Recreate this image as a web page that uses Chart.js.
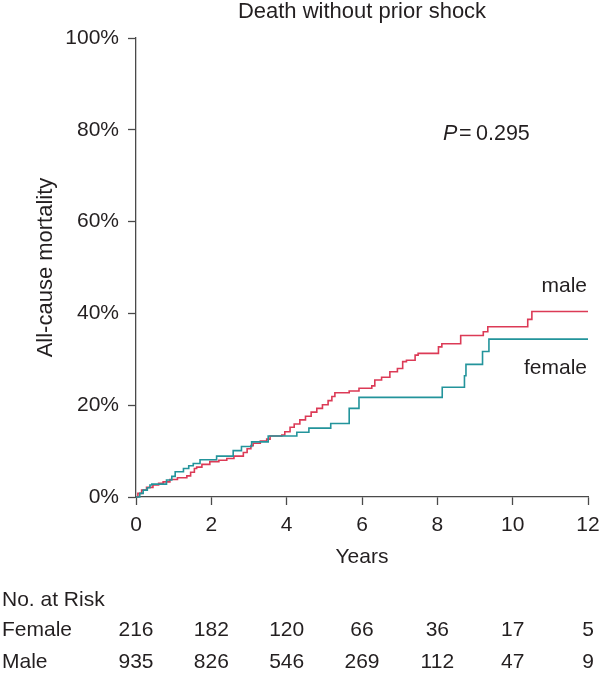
<!DOCTYPE html>
<html>
<head>
<meta charset="utf-8">
<script src="https://cdn.jsdelivr.net/npm/chart.js@4/dist/chart.umd.min.js"></script>
<style>
  html, body { margin: 0; padding: 0; background: #fff; }
  #wrap { width: 600px; height: 675px; }
</style>
</head>
<body>
<div id="wrap"><canvas id="c" width="600" height="675"></canvas></div>
<script>
// ---- data ----
const chartTitle = 'Death without prior shock';
const xTitle = 'Years';
const yTitle = 'All-cause mortality';
const pText = '0.295';

const femaleTimes = [0, 0.1, 0.19, 0.3, 0.37, 0.42, 0.81, 0.95, 1.04, 1.26, 1.4, 1.52, 1.7, 2.14, 2.58, 2.8, 3.07, 3.51, 4.27, 4.59, 5.17, 5.66, 5.92, 8.13, 8.72, 8.76, 9.2, 9.37, 12];
const femaleMort = [0, 0.8, 1.5, 2.0, 2.6, 2.8, 3.7, 4.5, 5.5, 6.2, 6.8, 7.3, 8.1, 8.9, 10.1, 11.0, 12.0, 13.3, 14.1, 15.0, 16.0, 19.3, 21.7, 23.9, 26.4, 28.9, 31.7, 34.4, 34.4];

const maleTimes = [0, 0.05, 0.15, 0.28, 0.45, 0.6, 0.72, 0.9, 1.1, 1.35, 1.45, 1.55, 1.61, 1.75, 1.96, 2.2, 2.41, 2.6, 2.85, 2.95, 3.05, 3.11, 3.3, 3.47, 3.56, 3.87, 3.95, 4.09, 4.2, 4.35, 4.5, 4.65, 4.8, 4.95, 5.1, 5.2, 5.28, 5.66, 5.92, 6.26, 6.34, 6.52, 6.74, 6.94, 7.08, 7.18, 7.41, 7.49, 8.03, 8.12, 8.62, 9.22, 9.34, 10.4, 10.51, 12];
const maleMort = [0, 0.8, 1.5, 2.1, 2.6, 3.0, 3.3, 3.8, 4.2, 4.6, 5.4, 6.2, 6.5, 7.1, 7.7, 8.0, 8.4, 8.9, 9.7, 10.5, 11.2, 11.7, 12.2, 12.6, 13.3, 13.5, 14.2, 15.2, 15.9, 16.8, 17.6, 18.5, 19.3, 20.1, 21.0, 21.9, 22.7, 23.1, 23.7, 24.2, 25.5, 26.1, 27.3, 28.0, 29.5, 29.8, 30.9, 31.3, 32.7, 33.4, 35.2, 36.0, 37.1, 38.7, 40.4, 40.4];

const riskYears = [0, 2, 4, 6, 8, 10, 12];
const riskFemale = [216, 182, 120, 66, 36, 17, 5];
const riskMale = [935, 826, 546, 269, 112, 47, 9];
const riskHeader = 'No. at Risk';
const groupNames = ['Female', 'Male'];
const curveLabels = ['female', 'male'];

const xTicks = { min: 0, max: 12, step: 2 };
const yTicks = { min: 0, max: 100, step: 20 };

// ---- styles ----
const FONT = "'Liberation Sans', Arial, Helvetica, sans-serif";
const TXT = '#231f20';
const AX = '#4a4a4a';
const RED = '#dc3a56';
const TEAL = '#23949b';

function pts(ts, vs) { return ts.map((t, i) => ({ x: t, y: vs[i] })); }

const annot = {
  id: 'annot',
  afterDraw(chart) {
    const ctx = chart.ctx;
    const xs = chart.scales.x;
    const ca = chart.chartArea;
    ctx.save();
    ctx.fillStyle = TXT;
    ctx.textBaseline = 'middle';
    // title
    ctx.font = '22px ' + FONT;
    ctx.textAlign = 'center';
    ctx.fillText(chartTitle, (ca.left + ca.right) / 2, 12);
    // P value
    ctx.textAlign = 'left';
    ctx.font = 'italic 21.5px ' + FONT;
    ctx.fillText('P', 443, 134.5);
    ctx.font = '21.5px ' + FONT;
    ctx.fillText('=', 459, 134.5);
    ctx.fillText(pText, 476, 134.5);
    // curve labels
    ctx.font = '21px ' + FONT;
    ctx.textAlign = 'right';
    ctx.fillText(curveLabels[1], ca.right - 1, 286);
    ctx.fillText(curveLabels[0], ca.right - 1, 368);
    // risk table
    ctx.textAlign = 'left';
    ctx.fillText(riskHeader, 2, 600);
    ctx.fillText(groupNames[0], 2, 630.5);
    ctx.fillText(groupNames[1], 2, 662.5);
    ctx.textAlign = 'center';
    riskYears.forEach((yr, i) => {
      const px = xs.getPixelForValue(yr);
      ctx.fillText(String(riskFemale[i]), px, 630.5);
      ctx.fillText(String(riskMale[i]), px, 662.5);
    });
    ctx.restore();
  }
};

new Chart(document.getElementById('c'), {
  type: 'line',
  data: {
    datasets: [
      { label: 'female', data: pts(femaleTimes, femaleMort), borderColor: TEAL, borderWidth: 1.6, pointRadius: 0, stepped: 'before', fill: false, clip: false },
      { label: 'male', data: pts(maleTimes, maleMort), borderColor: RED, borderWidth: 1.6, pointRadius: 0, stepped: 'before', fill: false, clip: false }
    ]
  },
  options: {
    responsive: false,
    animation: false,
    events: [],
    layout: { padding: { top: 38, right: 12, bottom: 105, left: 0 } },
    plugins: { legend: { display: false }, title: { display: false }, tooltip: { enabled: false } },
    scales: {
      x: {
        type: 'linear', min: xTicks.min, max: xTicks.max,
        afterFit: s => { s.height = 73; s.paddingLeft = 0; s.paddingRight = 0; },
        ticks: { stepSize: xTicks.step, color: TXT, font: { family: FONT, size: 21 }, padding: 8, maxRotation: 0 },
        grid: { drawOnChartArea: false, drawTicks: true, tickLength: 8, color: AX, tickWidth: 1.3 },
        border: { display: true, color: AX, width: 1.3 },
        title: { display: true, text: xTitle, color: TXT, font: { family: FONT, size: 21 }, padding: { top: 0, bottom: 0 } }
      },
      y: {
        min: yTicks.min, max: yTicks.max,
        afterFit: s => { s.width = 136; s.paddingTop = 0; s.paddingBottom = 0; },
        ticks: { stepSize: yTicks.step, color: TXT, font: { family: FONT, size: 21 }, padding: 9, callback: v => v + '%' },
        grid: { drawOnChartArea: false, drawTicks: true, tickLength: 8, color: AX, tickWidth: 1.3 },
        border: { display: true, color: AX, width: 1.3 },
        title: { display: true, text: yTitle, color: TXT, font: { family: FONT, size: 22 }, padding: { top: 33, bottom: 0 } }
      }
    }
  },
  plugins: [annot]
});
</script>
</body>
</html>
